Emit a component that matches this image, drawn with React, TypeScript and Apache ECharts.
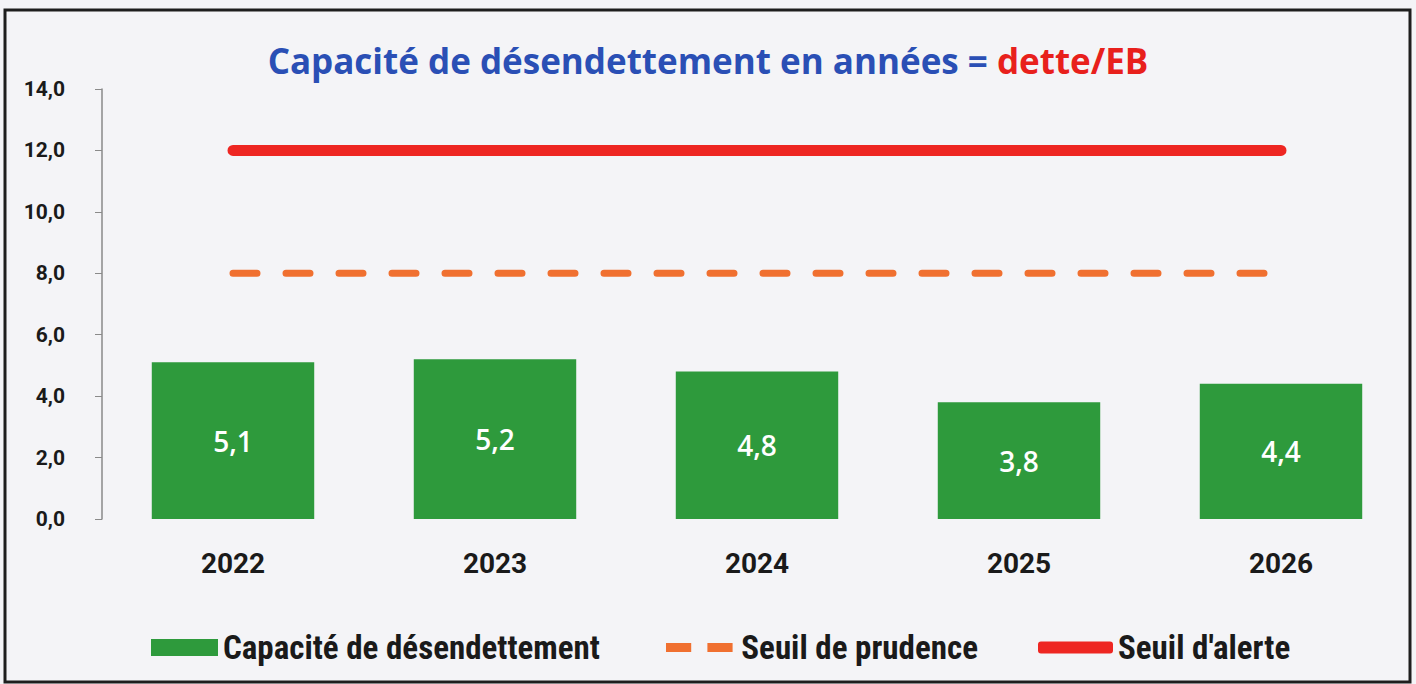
import React, { useEffect, useRef } from "react";
import * as echarts from "echarts";

const years = ["2022", "2023", "2024", "2025", "2026"];
const capacite = [5.1, 5.2, 4.8, 3.8, 4.4];
const seuilPrudence = [8, 8, 8, 8, 8];
const seuilAlerte = [12, 12, 12, 12, 12];
const yTicks = [0, 2, 4, 6, 8, 10, 12, 14];

const NAMES = ["Capacité de désendettement", "Seuil de prudence", "Seuil d'alerte"];
const COND = "'Roboto Condensed', 'Liberation Sans Narrow', Roboto, sans-serif";
const fmt = (v: number) => v.toFixed(1).replace(".", ",");

export default function App() {
  const ref = useRef<HTMLDivElement>(null);
  useEffect(() => {
    if (!ref.current) return;
    const chart = echarts.init(ref.current, undefined, { renderer: "svg" });
    const legendText = { fontFamily: COND, fontWeight: "bold" as const, fontSize: 33, color: "#1a1a1a" };
    chart.setOption({
      animation: false,
      backgroundColor: "#f4f4f7",
      title: {
        text: "{a|Capacité de désendettement en années = }{b|dette/EB}",
        left: "center",
        top: 38,
        textStyle: {
          rich: {
            a: { fontFamily: "'Open Sans', sans-serif", fontWeight: "bold", fontSize: 35, color: "#2a4fb5" },
            b: { fontFamily: "'Open Sans', sans-serif", fontWeight: "bold", fontSize: 35, color: "#e8201c" },
          },
        },
      },
      graphic: [
        {
          type: "rect",
          shape: { x: 5, y: 10, width: 1405, height: 672 },
          style: { fill: "none", stroke: "#1e1e1e", lineWidth: 3 },
          silent: true,
        },
      ],
      legend: [
        {
          data: [{ name: NAMES[0], icon: "rect" }],
          left: 146,
          top: 626,
          itemWidth: 67,
          itemHeight: 17,
          textStyle: legendText,
        },
        {
          data: [{ name: NAMES[1], icon: "path://M0,0h28v10h-28z M46,0h28v10h-28z" }],
          left: 661,
          top: 626,
          itemWidth: 74,
          itemHeight: 9,
          textStyle: legendText,
        },
        {
          data: [{ name: NAMES[2], icon: "roundRect" }],
          left: 1033,
          top: 626,
          itemWidth: 75,
          itemHeight: 12,
          textStyle: legendText,
        },
      ],
      grid: { left: 102, right: 4, top: 89, bottom: 165 },
      xAxis: {
        type: "category",
        data: years,
        axisLine: { show: false },
        axisTick: { show: false },
        axisLabel: { margin: 30, fontFamily: "Roboto, sans-serif", fontWeight: "bold", fontSize: 28, color: "#1a1a1a" },
      },
      yAxis: {
        type: "value",
        min: 0,
        max: 14,
        interval: 2,
        axisLine: { show: true, lineStyle: { color: "#8a8a8a", width: 1.5 } },
        axisTick: { show: true, length: 7, lineStyle: { color: "#8a8a8a" } },
        splitLine: { show: false },
        axisLabel: {
          margin: 37,
          fontFamily: "Roboto, sans-serif",
          fontWeight: "bold",
          fontSize: 21,
          color: "#1a1a1a",
          formatter: (v: number) => (yTicks.includes(v) ? fmt(v) : ""),
        },
      },
      series: [
        {
          name: NAMES[0],
          type: "bar",
          data: capacite,
          barWidth: "62%",
          itemStyle: { color: "#2e9a3c" },
          label: {
            show: true,
            position: "inside",
            formatter: (p: any) => fmt(p.value),
            color: "#ffffff",
            fontFamily: "'Open Sans', sans-serif",
            fontWeight: 600,
            fontSize: 28,
          },
        },
        {
          name: NAMES[1],
          type: "line",
          data: seuilPrudence,
          symbol: "none",
          lineStyle: { color: "#f07030", width: 7, type: [24, 29], cap: "round" },
          itemStyle: { color: "#f07030" },
        },
        {
          name: NAMES[2],
          type: "line",
          data: seuilAlerte,
          symbol: "none",
          lineStyle: { color: "#ee2622", width: 11, cap: "round" },
          itemStyle: { color: "#ee2622" },
        },
      ],
    });
    return () => chart.dispose();
  }, []);
  return <div ref={ref} style={{ position: "fixed", left: 0, top: 0, width: 1416, height: 684 }} />;
}
